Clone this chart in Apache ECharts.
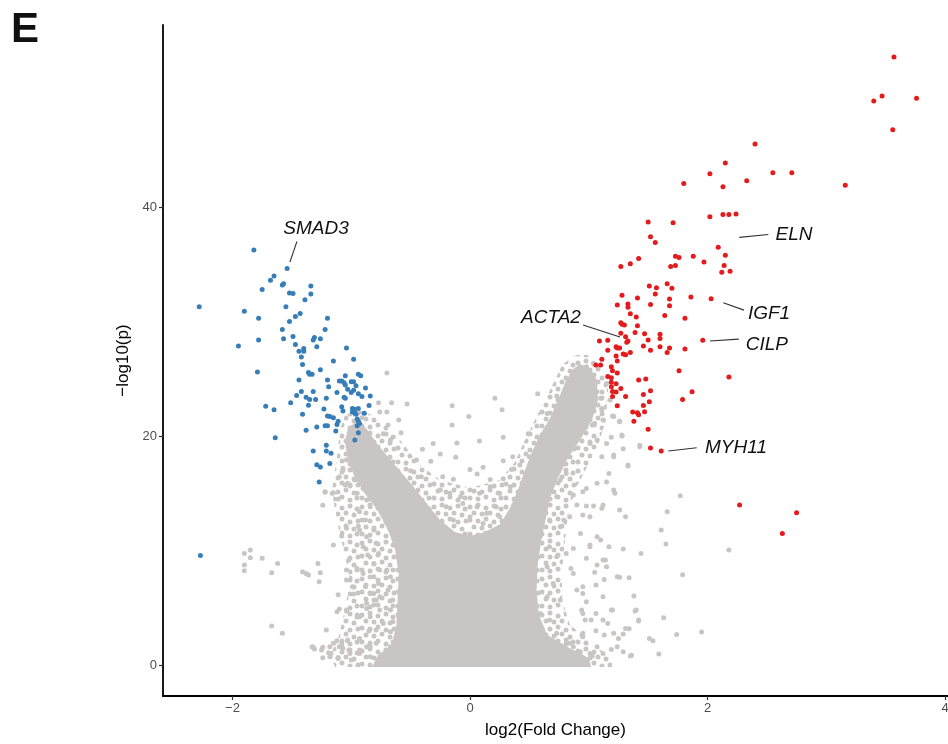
<!DOCTYPE html>
<html><head><meta charset="utf-8">
<script src="https://cdn.jsdelivr.net/npm/echarts@6/dist/echarts.min.js"></script>
<style>html,body{margin:0;padding:0;background:#fff}#c{width:948px;height:744px}</style>
</head><body><div id="c"></div>
<script>
// ---- data (log2 fold change, -log10 p) ----
const xTicks = [-2, 0, 2, 4];
const yTicks = [0, 20, 40];

const downPoints = [
[-1.82,36.24],[-1.54,34.64],[-2.28,31.3],[-1.65,33.97],[-1.68,33.6],[-1.75,32.8],[-1.58,33.2],[-1.57,33.3],[-1.34,33.1],[-1.34,32.4],
[-1.52,32.5],[-1.49,32.45],[-1.39,31.9],[-1.55,31.3],[-1.9,30.9],[-1.43,30.7],[-1.47,30.45],[-1.78,30.3],[-1.2,30.3],[-1.52,30.0],
[-1.22,29.3],[-1.58,29.3],[-1.49,28.7],[-1.31,28.6],[-1.32,28.4],[-1.26,28.5],[-1.57,28.5],[-1.78,28.4],[-1.47,28.0],[-1.95,27.86],
[-1.29,27.8],[-1.4,27.65],[-1.4,27.4],[-1.44,27.4],[-1.04,27.7],[-1.42,26.9],[-0.98,26.7],[-1.15,26.55],[-1.41,26.25],[-1.26,25.8],
[-1.79,25.6],[-1.36,25.56],[-1.35,25.4],[-1.33,25.4],[-0.94,25.4],[-0.92,25.27],[-1.05,25.27],[-1.44,24.9],[-1.2,24.9],[-1.1,24.8],
[-1.08,24.8],[-1.06,24.66],[-1.0,24.75],[-0.98,24.75],[-1.05,24.45],[-0.96,24.4],[-1.19,24.3],[-0.88,24.2],[-1.03,24.1],[-0.98,24.0],
[-1.0,23.8],[-1.12,23.8],[-1.42,23.9],[-1.32,23.9],[-0.94,23.7],[-1.46,23.55],[-0.84,23.5],[-1.38,23.4],[-1.35,23.2],[-1.3,23.2],
[-1.21,23.3],[-1.06,23.4],[-1.05,23.3],[-0.91,23.45],[-1.51,22.9],[-1.36,22.7],[-1.08,22.56],[-1.07,22.2],[-0.85,22.67],[-1.72,22.6],
[-1.65,22.3],[-1.23,22.36],[-0.99,22.4],[-0.97,22.35],[-0.99,22.1],[-0.97,22.0],[-0.96,21.9],[-0.94,22.4],[-0.89,22.0],[-1.41,21.9],
[-1.2,21.75],[-1.18,21.7],[-1.15,21.6],[-0.95,21.5],[-0.94,21.3],[-0.93,21.1],[-0.95,20.9],[-1.11,21.3],[-1.12,21.0],[-1.29,20.8],
[-1.22,20.9],[-1.2,20.9],[-1.38,20.5],[-1.13,20.45],[-0.94,20.3],[-1.64,19.85],[-0.97,19.65],[-1.21,19.2],[-1.32,18.7],[-1.21,18.7],
[-1.17,18.5],[-1.18,17.6],[-1.29,17.5],[-1.26,17.3],[-1.27,16.0],[-2.27,9.58]
];

const upPoints = [
[3.57,53.1],[3.4,49.26],[3.47,49.7],[3.76,49.5],[3.56,46.75],[2.4,45.5],[2.15,43.84],[2.02,42.9],[1.8,42.06],[2.13,41.77],
[2.33,42.3],[2.55,43.0],[2.71,43.0],[3.16,41.9],[2.02,39.15],[2.13,39.36],[2.18,39.36],[2.24,39.4],[1.5,38.7],[1.71,38.63],
[1.52,37.4],[1.56,36.9],[2.09,36.5],[2.15,35.8],[1.73,35.7],[1.76,35.6],[1.88,35.7],[1.42,35.5],[1.35,35.05],[1.27,34.8],
[1.97,35.2],[1.69,34.8],[1.73,34.9],[2.14,34.9],[2.12,34.3],[2.19,34.4],[1.51,33.1],[1.57,32.95],[1.56,32.4],[1.66,33.3],
[1.7,32.9],[1.28,32.3],[1.41,32.05],[1.68,31.97],[1.86,32.14],[2.03,32.0],[1.24,31.44],[1.33,31.53],[1.33,31.24],[1.52,31.5],
[1.68,31.38],[1.64,30.54],[1.35,30.68],[1.4,30.4],[1.81,30.28],[1.27,29.9],[1.3,29.7],[1.28,29.76],[1.41,29.64],[1.39,29.05],
[1.47,28.94],[1.6,28.9],[1.27,28.97],[1.6,28.53],[1.5,28.38],[1.31,28.67],[1.33,28.3],[1.32,28.2],[1.09,28.3],[1.16,28.36],
[1.96,28.36],[1.23,27.8],[1.26,27.7],[1.16,27.5],[1.24,27.7],[1.46,27.86],[1.52,27.5],[1.6,27.8],[1.68,27.7],[1.66,27.3],
[1.81,27.6],[1.35,27.3],[1.29,27.16],[1.31,27.1],[1.23,26.99],[1.24,26.55],[1.11,26.7],[1.1,26.2],[1.06,26.2],[1.19,26.05],
[1.2,25.7],[1.24,25.5],[1.16,25.2],[1.19,25.1],[1.19,24.7],[1.23,24.57],[1.76,25.7],[2.18,25.15],[1.42,24.9],[1.48,24.98],
[1.19,24.3],[1.27,24.16],[1.2,23.9],[1.23,23.84],[1.52,23.96],[1.2,23.46],[1.31,23.46],[1.46,23.64],[1.87,23.87],[1.51,23.0],
[1.79,23.2],[1.24,22.65],[1.46,22.68],[1.37,22.1],[1.41,22.04],[1.42,21.86],[1.47,22.12],[1.38,21.3],[1.5,20.6],[1.52,18.95],
[1.61,18.7],[2.27,13.97],[2.75,13.3],[2.63,11.5]
];

// outline where non-significant genes overlap into a solid mass
const nsSolidOutline = [
[-0.825,-0.17],[-0.775,0.87],[-0.66,1.75],[-0.62,3.49],[-0.61,5.68],[-0.6,7.86],[-0.63,10.04],[-0.69,11.79],[-0.78,13.54],[-0.876,14.85],
[-0.968,16.33],[-1.027,17.9],[-1.053,19.48],[-1.027,20.7],[-0.96,21.22],[-0.876,20.7],[-0.775,19.21],[-0.632,17.47],[-0.488,15.72],[-0.354,13.97],
[-0.253,12.66],[-0.126,11.62],[0,11.27],[0.126,11.62],[0.253,12.31],[0.337,13.71],[0.404,15.28],[0.463,17.03],[0.522,18.6],[0.589,20.09],
[0.674,21.57],[0.741,23.14],[0.8,24.63],[0.859,25.76],[0.926,26.29],[1.011,25.94],[1.069,24.89],[1.078,23.14],[1.027,21.4],[0.926,19.65],
[0.825,18.08],[0.741,16.33],[0.674,14.59],[0.64,12.84],[0.6,10.92],[0.57,8.73],[0.56,6.55],[0.58,4.37],[0.65,2.62],[0.842,1.48],
[1.0,0.61],[1.02,-0.17]
];

// outline of the surrounding zone where genes are dense but still separate
const nsHaloOutline = [
[-1.137,-0.17],[-1.179,0.87],[-1.112,2.18],[-1.053,4.8],[-1.011,7.42],[-1.053,9.61],[-1.095,11.35],[-1.137,13.54],[-1.162,15.28],[-1.137,17.03],
[-1.112,18.78],[-1.095,20.52],[-1.053,21.83],[-0.943,22.27],[-0.825,21.83],[-0.716,20.96],[-0.589,19.65],[-0.421,17.47],[-0.253,16.16],[0,15.46],
[0.253,16.16],[0.379,17.73],[0.463,19.65],[0.547,21.4],[0.632,23.14],[0.716,24.89],[0.775,26.2],[0.884,27.07],[1.027,27.07],[1.12,25.94],
[1.162,24.02],[1.145,21.4],[1.078,19.21],[0.994,17.47],[0.884,15.28],[0.825,13.1],[0.8,10.92],[0.775,8.3],[0.775,5.68],[0.842,3.49],
[1.053,1.75],[1.196,0.44],[1.196,-0.17]
];

const nsPoints = [
[-1.9,9.75],[-1.85,10.04],[-1.85,9.37],[-1.75,9.32],[-1.9,8.73],[-1.9,8.24],[-1.62,8.88],[-1.67,8.06],[-1.41,8.15],[-1.38,8.0],
[-1.36,7.86],[-1.28,8.88],[-1.26,8.06],[-1.27,7.28],[-1.67,3.41],[-1.58,2.77],
[-1.22,15.1],[-1.16,15.0],[-1.11,14.5],[-1.24,13.95],[-1.08,11.27],[-1.15,10.48],[-1.02,9.17],[-1.04,8.3],[-0.95,8.44],[-1.01,7.42],
[-0.99,6.84],[-0.98,6.2],[-1.11,6.14],[-1.12,4.66],[-1.1,4.89],[-1.04,4.72],[-1.21,3.06],[-0.93,2.33],[-0.85,2.97],[-1.33,1.6],
[-1.31,1.4],[-1.24,1.55],[-1.24,0.64],[-1.19,1.07],[-1.15,1.9],[-1.12,2.12],[-1.08,1.83],[-1.03,2.12],[-1.11,0.58],[-1.07,1.46],
[-1.02,1.31],[-1.17,1.02],[-1.0,0.44],
[-1.07,17.03],[-1.05,15.72],[-1.01,15.72],[-0.97,16.16],[-0.93,16.74],[-0.9,15.43],[-0.95,15.0],[-0.87,14.41],[-0.93,13.39],[-0.84,13.83],
[-0.88,12.66],[-0.93,11.79],[-0.87,11.2],[-0.81,11.79],[-0.79,10.63],[-0.9,10.33],[-0.86,9.61],[-0.77,9.75],[-0.81,8.88],[-0.76,8.3],
[-0.7,8.3],[-0.9,8.0],[-0.81,7.71],[-0.77,7.13],[-0.67,7.71],[-0.88,6.84],[-0.81,6.26],[-0.76,5.97],[-0.69,6.55],[-0.65,5.68],
[-0.87,5.39],[-0.81,5.24],[-0.76,4.8],[-0.67,4.8],[-0.93,4.22],[-0.84,4.22],[-0.73,3.64],[-0.65,3.78],[-0.79,3.06],[-0.67,2.91],
[-0.59,2.77],[-0.87,1.6],[-0.79,1.9],[-0.67,1.6],[-0.93,1.02],[-0.84,0.72],[-0.76,0.44],
[-1.04,11.94],[-0.94,12.14],[-1.04,7.42],[-1.04,4.8],[-0.95,4.37],[-0.87,4.95],[-0.84,6.26],[-0.79,5.68],[-1.03,2.18],[-1.32,1.55],
[-1.25,1.31],[-1.18,1.6],[-1.1,1.6],[-1.18,0.72],[-1.11,0.67],[-1.01,1.02],[-0.93,1.31],[-0.84,1.6],
[-0.7,25.5],[-0.77,22.9],[-0.66,22.9],[-0.53,22.8],[-0.76,22.1],[-0.7,22.1],[-0.6,21.4],[-0.69,20.96],[-0.58,20.3],[-0.73,20.2],
[-0.67,19.65],[-0.31,19.36],[-0.4,18.86],[-0.11,19.4],[0.08,19.56],[0.28,19.9],[0.49,20.2],[-0.15,22.65],[-0.01,21.7],[0.21,23.3],
[0.27,22.3],[0.57,23.7],[0.73,23.5],[-0.15,20.96],[-0.25,18.43],[-0.12,18.14],[-0.33,17.8],[-0.45,17.9],[-0.5,16.97],[-0.41,16.45],
[-0.23,16.45],[-0.14,16.24],[0.0,17.09],[0.11,17.27],[0.06,16.68],[0.28,17.84],[0.36,18.2],[0.35,17.09],[0.28,16.27],[0.17,16.2],
[0.42,17.47],[0.5,18.2],[0.65,21.98],
[-0.91,21.6],[-1.07,17.2],[-1.04,17.9],[-1.1,16.45],[-1.03,15.87],[-1.22,15.14],[-1.15,15.05],
[-0.25,15.28],[-0.17,15.0],[-0.08,14.7],[0.0,15.28],[0.08,15.0],[0.17,15.57],[0.25,15.0],[0.34,15.57],[-0.2,13.83],[-0.06,14.12],
[0.06,13.83],[0.14,13.25],[0.22,13.83],[-0.14,12.66],[0.0,12.95],[0.11,12.37],[0.25,12.95],[0.34,13.25],
[1.77,14.79],[1.66,13.39],[1.61,11.79],[1.65,10.57],[1.44,9.75],[1.29,10.13],[1.79,7.89],[1.63,4.13],[1.74,2.68],[1.59,0.96],
[1.51,2.33],[1.54,2.12],[1.42,3.84],[1.39,4.72],[1.38,6.03],[1.34,7.63],[1.26,7.66],[1.95,2.88],[2.18,10.04],
[1.11,18.2],[1.21,18.2],[1.33,17.38],[1.43,19.07],[1.28,20.1],[1.26,21.25],[1.2,21.75],[1.18,23.14],[1.15,24.6],[1.07,23.87],
[1.11,22.27],[1.03,20.96],[1.07,19.65],[1.15,16.0],[1.12,13.97],[1.11,13.69],[1.21,15.28],[1.26,13.54],[1.31,12.95],[1.01,12.95],
[0.95,13.1],[0.98,13.89],[1.04,13.89],[0.87,14.85],[0.95,15.14],[0.9,13.97],[0.84,12.95],[0.93,11.5],[1.01,10.48],[1.07,11.2],
[1.1,10.92],[1.17,10.33],[0.87,10.19],[0.81,9.75],[0.85,8.44],[0.87,8.0],[1.05,8.1],[1.07,8.73],[1.14,9.17],[1.13,7.48],
[0.9,6.55],[0.95,6.26],[1.06,6.99],[0.98,5.53],[0.94,4.8],[1.2,4.8],[1.06,4.51],[0.97,3.93],[1.02,3.93],[1.16,3.64],
[0.95,2.77],[1.06,3.0],[1.13,2.62],[1.21,2.77],[1.29,2.71],[1.31,3.2],[1.34,3.17],[1.25,2.33],[1.24,1.6],[1.29,1.16],
[1.36,0.85],[1.19,1.37],[1.12,1.02],[1.03,0.79],
[0.79,12.66],[1.01,10.33],[0.98,9.32],[1.12,9.17],[1.15,8.59],[1.24,7.71],[0.95,6.84],[1.12,5.97],[1.19,4.8],[0.95,4.51],
[1.12,3.93],[1.4,4.8],[1.42,3.93],[1.07,1.6],[1.35,0.79],[0.95,2.47],[0.84,1.9],[0.93,1.16],[1.01,1.02],
[0.93,25.9],[0.98,26.05],[1.04,26.35],[0.97,24.9],[1.03,24.0],[1.1,23.3],[1.11,22.4],[1.01,21.8],[1.05,21.1],[1.12,21.4],
[1.21,21.7],[1.26,21.3],[1.28,20.0],[1.19,19.9],[1.15,19.36],[1.01,19.36],[1.21,18.34],[1.33,17.47],[1.43,19.2],[1.29,18.9],
[1.17,16.74],[1.07,15.87],[0.98,15.43],[1.22,15.0],
[0.7,17.32],[0.76,16.16],[0.73,14.7],[0.81,16.74],[0.67,12.66],[0.76,12.08],[0.59,11.2],[0.67,10.33],[0.73,9.46],[0.65,8.59],
[0.7,7.13],[0.65,5.97],[0.76,5.68],[0.59,4.51],[0.67,3.93],[0.73,2.77],[0.81,2.18],[0.87,1.6]
];

// gene annotations: leader line (from, to) and text anchor, in data units
const geneLabels = [
  { gene: 'SMAD3', from: [-1.516, 35.2], to: [-1.457, 37.0], at: [-1.297, 38.1] },
  { gene: 'ACTA2', from: [1.263, 28.65], to: [0.952, 29.7], at: [0.682, 30.3] },
  { gene: 'ELN',   from: [2.268, 37.35], to: [2.512, 37.6], at: [2.728, 37.55] },
  { gene: 'IGF1',  from: [2.133, 31.64], to: [2.307, 31.0], at: [2.518, 30.65] },
  { gene: 'CILP',  from: [2.021, 28.3], to: [2.263, 28.47], at: [2.5, 28.0] },
  { gene: 'MYH11', from: [1.67, 18.69], to: [1.909, 18.98], at: [2.24, 18.95] }
];

const GRAY = '#c9c5c5', RED = '#e41a1c', BLUE = '#377eb8';
const fmt = v => (v < 0 ? '\u2212' + Math.abs(v) : String(v));

// dotted texture for the zone of closely packed, still separate points
function dotTexture() {
  const size = 36, r = 2.5;
  const spots = [[2,3],[10,1],[18,4],[26,2],[33,5],[6,9],[14,10],[22,9],[30,11],[2,16],[10,17],[18,15],
                 [26,18],[34,17],[6,23],[14,24],[22,22],[30,25],[2,30],[10,31],[18,29],[26,32],[33,30]];
  const cv = document.createElement('canvas');
  cv.width = size; cv.height = size;
  const ctx = cv.getContext('2d');
  ctx.fillStyle = GRAY;
  for (const [sx, sy] of spots) {
    for (const ox of [-size, 0, size]) for (const oy of [-size, 0, size]) {
      ctx.beginPath(); ctx.arc(sx + ox, sy + oy, r, 0, Math.PI * 2); ctx.fill();
    }
  }
  return { image: cv, repeat: 'repeat' };
}
const texture = dotTexture();

const polygonSeries = (outline, fill, z) => ({
  type: 'custom', silent: true, z, clip: true, data: [[0, 0]],
  renderItem: (params, api) => ({
    type: 'polygon',
    shape: { points: outline.map(p => api.coord(p)) },
    style: { fill }
  })
});

const FONT = '"Liberation Sans", Arial, sans-serif';
const chart = echarts.init(document.getElementById('c'), null, { renderer: 'canvas' });
chart.setOption({
  animation: false,
  backgroundColor: '#fff',
  graphic: [{ type: 'text', left: 11, top: 9,
    style: { text: 'E', font: 'bold 42px ' + FONT, fill: '#111' } }],
  grid: { left: 163, right: 0, top: 25, bottom: 48, containLabel: false, outerBoundsMode: 'none' },
  xAxis: {
    type: 'value', min: -2.585, max: 4.025,
    splitLine: { show: false },
    axisLine: { onZero: false, lineStyle: { color: '#000', width: 1.8 } },
    axisTick: { customValues: xTicks, length: 4, lineStyle: { color: '#333', width: 1.2 } },
    axisLabel: { customValues: xTicks, formatter: fmt, color: '#4d4d4d', fontSize: 13, margin: 6, fontFamily: FONT },
    name: 'log2(Fold Change)', nameLocation: 'middle', nameGap: 26,
    nameTextStyle: { color: '#000', fontSize: 17, fontFamily: FONT }
  },
  yAxis: {
    type: 'value', min: -2.7, max: 55.9,
    splitLine: { show: false },
    axisLine: { onZero: false, lineStyle: { color: '#000', width: 1.8 } },
    axisTick: { customValues: yTicks, length: 4, lineStyle: { color: '#333', width: 1.2 } },
    axisLabel: { customValues: yTicks, formatter: fmt, color: '#4d4d4d', fontSize: 13, margin: 6, fontFamily: FONT },
    name: '\u2212log10(p)', nameLocation: 'middle', nameGap: 30, nameRotate: 90,
    nameTextStyle: { color: '#000', fontSize: 17, fontFamily: FONT }
  },
  series: [
    polygonSeries(nsHaloOutline, texture, 1),
    polygonSeries(nsSolidOutline, GRAY, 1),
    { type: 'scatter', name: 'ns', data: nsPoints, symbolSize: 5, z: 2, silent: true,
      itemStyle: { color: GRAY, opacity: 1 } },
    { type: 'scatter', name: 'down', data: downPoints, symbolSize: 5, z: 3, silent: true,
      itemStyle: { color: BLUE, opacity: 1 } },
    { type: 'scatter', name: 'up', data: upPoints, symbolSize: 5, z: 3, silent: true,
      itemStyle: { color: RED, opacity: 1 } },
    { type: 'custom', name: 'labels', silent: true, z: 5, clip: false,
      data: geneLabels.map(g => [g.from[0], g.from[1], g.to[0], g.to[1], g.at[0], g.at[1]]),
      renderItem: (params, api) => {
        const g = geneLabels[params.dataIndex];
        const a = api.coord([api.value(0), api.value(1)]);
        const b = api.coord([api.value(2), api.value(3)]);
        const t = api.coord([api.value(4), api.value(5)]);
        return { type: 'group', children: [
          { type: 'line', shape: { x1: a[0], y1: a[1], x2: b[0], y2: b[1] },
            style: { stroke: '#333', lineWidth: 1.1 } },
          { type: 'text', x: t[0], y: t[1],
            style: { text: g.gene, font: 'italic 19px ' + FONT, fill: '#111', align: 'center', verticalAlign: 'middle' } }
        ]};
      }
    }
  ]
});
</script>
</body></html>
